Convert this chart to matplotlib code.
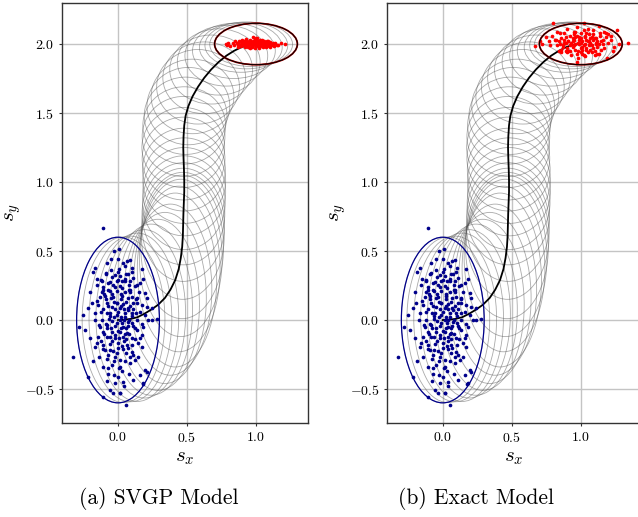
import numpy as np
import matplotlib
matplotlib.use("Agg")
import matplotlib.pyplot as plt
from matplotlib.patches import Ellipse

plt.rcParams.update({
    "font.family": "serif",
    "font.serif": ["cmr10"],
    "mathtext.fontset": "cm",
    "axes.formatter.use_mathtext": True,
    "axes.unicode_minus": True,
})

# ---- mean trajectory / ellipse centres and 3-sigma semi-axes ----
centre_x = [0.00, 0.04, 0.09, 0.14, 0.19, 0.24, 0.29, 0.34, 0.38, 0.415,
            0.44, 0.455, 0.465, 0.47, 0.472, 0.474, 0.477, 0.48, 0.48, 0.478,
            0.475, 0.473, 0.475, 0.48, 0.49, 0.51, 0.54, 0.58, 0.625, 0.675,
            0.73, 0.785, 0.84, 0.89, 0.93, 0.965, 1.00]
centre_y = [0.00, 0.002, 0.008, 0.02, 0.045, 0.075, 0.11, 0.16, 0.22, 0.29,
            0.37, 0.45, 0.53, 0.61, 0.69, 0.77, 0.85, 0.93, 1.01, 1.09,
            1.17, 1.25, 1.33, 1.41, 1.48, 1.55, 1.62, 1.69, 1.755, 1.815,
            1.87, 1.915, 1.95, 1.975, 1.99, 1.997, 2.00]
semi_x = [0.30] * 37
semi_y = [0.60, 0.60, 0.60, 0.61, 0.61, 0.62, 0.62, 0.62, 0.62, 0.63,
          0.60, 0.57, 0.52, 0.46, 0.41, 0.37, 0.34, 0.32, 0.31, 0.30,
          0.30, 0.29, 0.29, 0.28, 0.28, 0.28, 0.27, 0.27, 0.26, 0.25,
          0.24, 0.22, 0.20, 0.18, 0.17, 0.16, 0.15]

# ---- initial samples (same in both panels) ----
blue_x = [-0.106, -0.027, 0.010, -0.051, -0.082, 0.039, 0.068, 0.087, -0.167, -0.184,
          0.171, -0.087, -0.022, 0.014, 0.075, 0.099, -0.150, -0.118, -0.058, 0.002,
          0.051, 0.111, 0.184, -0.155, -0.106, -0.034, 0.014, 0.082, 0.135, 0.159,
          -0.203, -0.118, -0.070, -0.010, 0.051, 0.087, 0.196, -0.130, -0.094, -0.034,
          0.027, 0.099, 0.135, 0.208, -0.191, -0.143, -0.082, -0.010, 0.039, 0.135,
          0.171, 0.244, -0.215, -0.106, -0.046, 0.014, 0.075, 0.111, 0.208, -0.251,
          -0.167, -0.058, -0.010, 0.051, 0.099, 0.159, 0.196, -0.118, -0.063, 0.014,
          0.075, 0.135, 0.220, 0.280, -0.280, -0.135, -0.082, -0.022, 0.039, 0.111,
          0.171, 0.244, -0.239, -0.106, -0.046, 0.014, 0.063, 0.135, -0.203, -0.143,
          -0.082, -0.022, 0.039, 0.099, 0.171, -0.155, -0.106, -0.058, 0.002, 0.063,
          0.147, -0.324, -0.167, -0.094, -0.034, 0.039, 0.099, 0.171, -0.184, -0.070,
          -0.022, 0.014, 0.087, 0.123, 0.147, -0.106, -0.046, 0.014, 0.087, 0.196,
          -0.070, 0.002, 0.159, 0.208, -0.215, -0.022, 0.039, 0.111, -0.058, 0.014,
          0.184, -0.106, 0.056, -0.034, 0.014, 0.179,
          -0.04, 0.02, 0.06, -0.07, 0.00, 0.05, -0.03, 0.03, 0.08, -0.05,
          0.00, 0.06, -0.09, 0.10, -0.02, 0.04, -0.04, 0.08, 0.00, -0.06,
          0.06, 0.02, -0.01, 0.03, -0.09, 0.09, -0.12, 0.12, 0.00, -0.05,
          0.05, -0.08, 0.10, -0.10, 0.02, -0.03, 0.04, -0.01, 0.07, -0.06,
          0.11, -0.12, 0.03, -0.03, 0.12, -0.11, 0.07, 0.01, -0.02, 0.05,
          -0.08, 0.07, -0.02, 0.10, -0.06, 0.04, 0.02, -0.04, 0.09, -0.10,
          0.13, -0.13, 0.06, -0.01, 0.03, -0.07, 0.08, 0.11, -0.11, 0.00,
          0.05, -0.07, 0.15, -0.15, 0.16, -0.14, 0.02, -0.05, 0.08, 0.01,
          0.06, -0.09, 0.12, -0.03, 0.04, -0.08, 0.10, -0.12, 0.18, -0.17,
          0.03, -0.06, 0.07, -0.01, 0.09, -0.04, 0.05, -0.08, 0.01, 0.13]
blue_y = [0.664, 0.502, 0.512, 0.440, 0.415, 0.415, 0.430, 0.435, 0.374, 0.350,
          0.367, 0.338, 0.326, 0.319, 0.333, 0.350, 0.295, 0.283, 0.278, 0.290,
          0.285, 0.302, 0.295, 0.254, 0.242, 0.254, 0.246, 0.251, 0.254, 0.266,
          0.205, 0.205, 0.217, 0.213, 0.205, 0.217, 0.193, 0.169, 0.174, 0.169,
          0.174, 0.169, 0.157, 0.157, 0.121, 0.109, 0.121, 0.126, 0.116, 0.121,
          0.109, 0.085, 0.085, 0.077, 0.092, 0.085, 0.072, 0.077, 0.092, 0.036,
          0.048, 0.048, 0.036, 0.024, 0.048, 0.060, 0.036, 0.000, 0.005, 0.000,
          -0.012, 0.000, 0.000, 0.005, -0.048, -0.036, -0.036, -0.043, -0.048, -0.043,
          -0.029, 0.000, -0.072, -0.085, -0.085, -0.085, -0.097, -0.072, -0.133, -0.121,
          -0.126, -0.133, -0.121, -0.133, -0.109, -0.169, -0.181, -0.174, -0.169, -0.181,
          -0.164, -0.266, -0.193, -0.217, -0.222, -0.213, -0.229, -0.193, -0.295, -0.254,
          -0.266, -0.290, -0.271, -0.290, -0.266, -0.338, -0.326, -0.338, -0.314, -0.362,
          -0.391, -0.411, -0.399, -0.374, -0.411, -0.459, -0.447, -0.435, -0.507, -0.531,
          -0.459, -0.556, -0.616, -0.530, -0.527, -0.464,
          0.19, 0.15, 0.13, 0.10, 0.06, 0.05, 0.02, -0.02, 0.00, -0.06,
          -0.08, -0.06, -0.03, 0.03, -0.11, -0.15, -0.15, -0.10, -0.20, -0.22,
          -0.24, 0.10, 0.28, 0.23, 0.15, 0.20, 0.06, -0.06, 0.35, 0.36,
          -0.30, -0.28, -0.18, -0.10, 0.19, 0.13, 0.00, -0.02, 0.09, 0.03,
          0.12, -0.15, -0.37, -0.30, 0.25, 0.22, -0.20, -0.13, 0.08, 0.30,
          0.05, 0.16, 0.24, -0.02, -0.12, 0.08, -0.06, 0.31, 0.28, 0.19,
          0.05, -0.05, -0.14, -0.24, -0.19, -0.35, -0.39, -0.25, -0.21, 0.44,
          0.39, 0.27, 0.20, 0.14, -0.13, -0.27, 0.02, 0.16, 0.22, -0.35,
          0.33, 0.33, -0.14, -0.40, -0.48, -0.44, 0.38, 0.29, -0.05, 0.00,
          0.28, 0.21, -0.04, 0.12, 0.10, -0.01, -0.10, -0.06, 0.37, 0.15]

# ---- final samples, SVGP model ----
red_a_x = [0.78, 0.79, 0.81, 0.80, 1.21, 1.15, 1.13, 1.18, 1.10, 0.85,
           0.87, 0.88, 0.90, 0.92, 0.93, 0.95, 0.96, 0.97, 0.98, 0.99,
           1.00, 1.01, 1.02, 1.03, 1.04, 1.05, 1.06, 1.07, 1.08, 1.09,
           0.89, 0.91, 0.94, 0.96, 0.98, 1.00, 1.02, 1.04, 1.06, 1.08,
           0.90, 0.92, 0.95, 0.97, 0.99, 1.01, 1.03, 1.05, 1.07, 1.11,
           0.86, 0.93, 0.97, 1.00, 1.02, 1.05, 1.09, 1.12, 0.94, 0.99,
           1.03, 1.06, 0.91, 0.98, 1.01, 1.04, 0.95, 0.96, 1.00, 1.08,
           0.84, 1.14, 0.88, 1.10, 1.16, 0.83,
           0.89, 0.91, 0.93, 0.95, 0.97, 0.99, 1.01, 1.03, 1.05, 1.07,
           1.09, 1.11, 0.92, 0.94, 0.96, 0.98, 1.00, 1.02, 1.04, 1.06,
           1.12, 0.87, 0.90, 1.00, 0.97, 1.03, 1.08, 0.95, 1.01, 0.99]
red_a_y = [2.000, 1.990, 1.985, 2.010, 2.000, 1.990, 1.985, 2.005, 1.980, 2.020,
           1.975, 2.000, 2.010, 1.990, 2.020, 2.000, 2.030, 1.990, 2.010, 1.970,
           2.000, 2.040, 1.980, 2.010, 1.990, 2.020, 2.000, 1.980, 2.010, 1.995,
           1.985, 2.025, 1.980, 2.015, 2.050, 1.985, 2.025, 2.005, 1.990, 2.020,
           2.000, 1.975, 2.005, 1.985, 2.030, 2.010, 1.995, 1.975, 2.005, 2.000,
           2.005, 2.035, 2.000, 2.020, 1.970, 2.010, 2.010, 1.995, 1.995, 2.005,
           2.030, 2.025, 1.995, 1.990, 1.995, 2.015, 2.015, 1.970, 2.030, 1.985,
           1.995, 2.005, 2.025, 2.015, 1.995, 2.005,
           2.020, 1.990, 2.005, 2.025, 2.015, 2.000, 2.020, 1.985, 2.005, 2.015,
           2.020, 1.990, 2.010, 1.995, 2.000, 2.025, 1.990, 2.000, 2.030, 1.990,
           2.010, 1.990, 2.030, 2.045, 1.975, 2.015, 2.000, 1.980, 2.005, 2.035]

# ---- final samples, exact model ----
red_b_x = [0.80, 1.02, 1.345, 0.67, 0.705, 1.23, 0.97, 1.19, 0.86, 1.26,
           1.18, 0.75, 0.83, 0.90, 1.09, 1.13, 0.78, 0.72, 1.28, 1.22,
           0.84, 0.87, 0.89, 0.91, 0.93, 0.95, 0.97, 0.99, 1.01, 1.03,
           1.05, 1.07, 1.09, 1.11, 1.13, 1.15, 0.85, 0.88, 0.92, 0.94,
           0.96, 0.98, 1.00, 1.02, 1.04, 1.06, 1.08, 1.10, 1.12, 1.16,
           0.82, 0.90, 0.95, 0.99, 1.03, 1.07, 1.11, 1.14, 0.86, 0.93,
           0.97, 1.01, 1.05, 1.09, 0.88, 0.94, 1.00, 1.06, 1.12, 0.91,
           0.96, 1.02, 1.08, 0.98, 1.04, 0.92, 1.00, 1.07, 0.87, 1.15,
           0.95, 1.01, 1.10, 0.84, 1.20, 0.79, 1.24, 1.17, 0.89, 1.03,
           0.88, 0.90, 0.92, 0.94, 0.96, 0.98, 1.00, 1.02, 1.04, 1.06,
           1.08, 1.10, 1.12, 1.14, 1.16, 0.86, 0.83, 0.81, 0.93, 0.97,
           1.01, 1.05, 1.09, 1.13, 1.17, 0.99, 1.03, 0.95, 1.07, 1.11,
           0.91, 0.89, 1.00, 1.04, 0.96, 1.20, 1.22, 0.77, 0.85, 1.18]
red_b_y = [2.150, 2.150, 2.010, 1.985, 2.020, 1.950, 1.870, 1.900, 1.960, 2.100,
           2.050, 2.050, 2.090, 2.110, 2.100, 2.130, 1.990, 2.000, 2.000, 2.030,
           2.020, 1.980, 2.050, 1.950, 2.010, 2.070, 1.930, 2.030, 1.980, 2.060,
           1.940, 2.010, 1.970, 2.040, 2.000, 1.960, 2.000, 2.080, 1.990, 2.040,
           1.960, 2.010, 2.080, 1.920, 2.030, 1.990, 2.050, 1.950, 2.020, 2.000,
           2.030, 1.940, 2.030, 2.050, 2.000, 1.960, 2.000, 2.060, 1.940, 2.000,
           2.060, 1.960, 2.020, 2.030, 2.030, 1.980, 1.940, 2.070, 1.930, 2.020,
           2.000, 2.100, 1.990, 1.900, 1.970, 1.950, 2.010, 2.040, 1.990, 2.020,
           2.090, 2.020, 1.920, 1.950, 2.070, 2.060, 1.980, 2.090, 2.010, 1.910,
           2.010, 1.970, 2.060, 2.020, 2.090, 1.950, 2.040, 1.990, 2.080, 2.020,
           1.940, 2.040, 1.980, 2.080, 2.030, 2.040, 1.990, 2.030, 1.920, 2.120,
           1.930, 2.110, 2.070, 1.930, 1.970, 2.000, 2.050, 1.990, 2.000, 2.010,
           2.020, 1.950, 1.970, 1.960, 2.050, 2.010, 2.060, 2.020, 2.080, 2.080]

x_ticks = [0.0, 0.5, 1.0]
y_ticks = [-0.5, 0.0, 0.5, 1.0, 1.5, 2.0]
captions = ["(a) SVGP Model", "(b) Exact Model"]

fig = plt.figure(figsize=(6.38, 5.17), dpi=100)
W, H = 638.0, 517.0
ax_a = fig.add_axes([62 / W, 1 - 423 / H, 246 / W, 420 / H])
ax_b = fig.add_axes([387 / W, 1 - 423 / H, 253 / W, 420 / H])
panels = [(ax_a, red_a_x, red_a_y, (-0.406, 1.377)),
          (ax_b, red_b_x, red_b_y, (-0.404, 1.429))]

for ax, rx, ry, xl in panels:
    ax.set_axisbelow(True)
    ax.grid(True, color="#c4c4c4", linewidth=1.0)
    for cx, cy, a, b in zip(centre_x, centre_y, semi_x, semi_y):
        ax.add_patch(Ellipse((cx, cy), 2 * a, 2 * b, fill=False,
                             edgecolor="#555555", alpha=0.5, linewidth=0.6, zorder=2))
    ax.plot(centre_x, centre_y, color="black", linewidth=1.3, zorder=3)
    ax.scatter(blue_x, blue_y, s=7, color="#00008b", linewidths=0, zorder=4)
    ax.scatter(rx, ry, s=7, color="red", linewidths=0, zorder=4)
    ax.add_patch(Ellipse((centre_x[0], centre_y[0]), 2 * semi_x[0], 2 * semi_y[0],
                         fill=False, edgecolor="#00008b", linewidth=0.9, zorder=5))
    ax.add_patch(Ellipse((centre_x[-1], centre_y[-1]), 2 * semi_x[-1], 2 * semi_y[-1],
                         fill=False, edgecolor="#b00000", linewidth=1.3, zorder=5))
    ax.add_patch(Ellipse((centre_x[-1], centre_y[-1]), 2 * semi_x[-1], 2 * semi_y[-1],
                         fill=False, edgecolor="black", linewidth=0.7, zorder=6))
    ax.set_xlim(*xl)
    ax.set_ylim(-0.746, 2.297)
    ax.set_xticks(x_ticks)
    ax.set_yticks(y_ticks)
    ax.tick_params(labelsize=10, length=2, width=0.8, color="#333333")
    for sp in ax.spines.values():
        sp.set_color("#333333")
        sp.set_linewidth(1.0)
    ax.set_xlabel(r"$s_x$", fontsize=15, labelpad=3)
    ax.set_ylabel(r"$s_y$", fontsize=15, labelpad=1)

fig.text(159 / W, 1 - 498 / H, captions[0], ha="center", va="center", fontsize=15.5)
fig.text(476 / W, 1 - 498 / H, captions[1], ha="center", va="center", fontsize=15.5)

fig.savefig("out.png", dpi=100)
